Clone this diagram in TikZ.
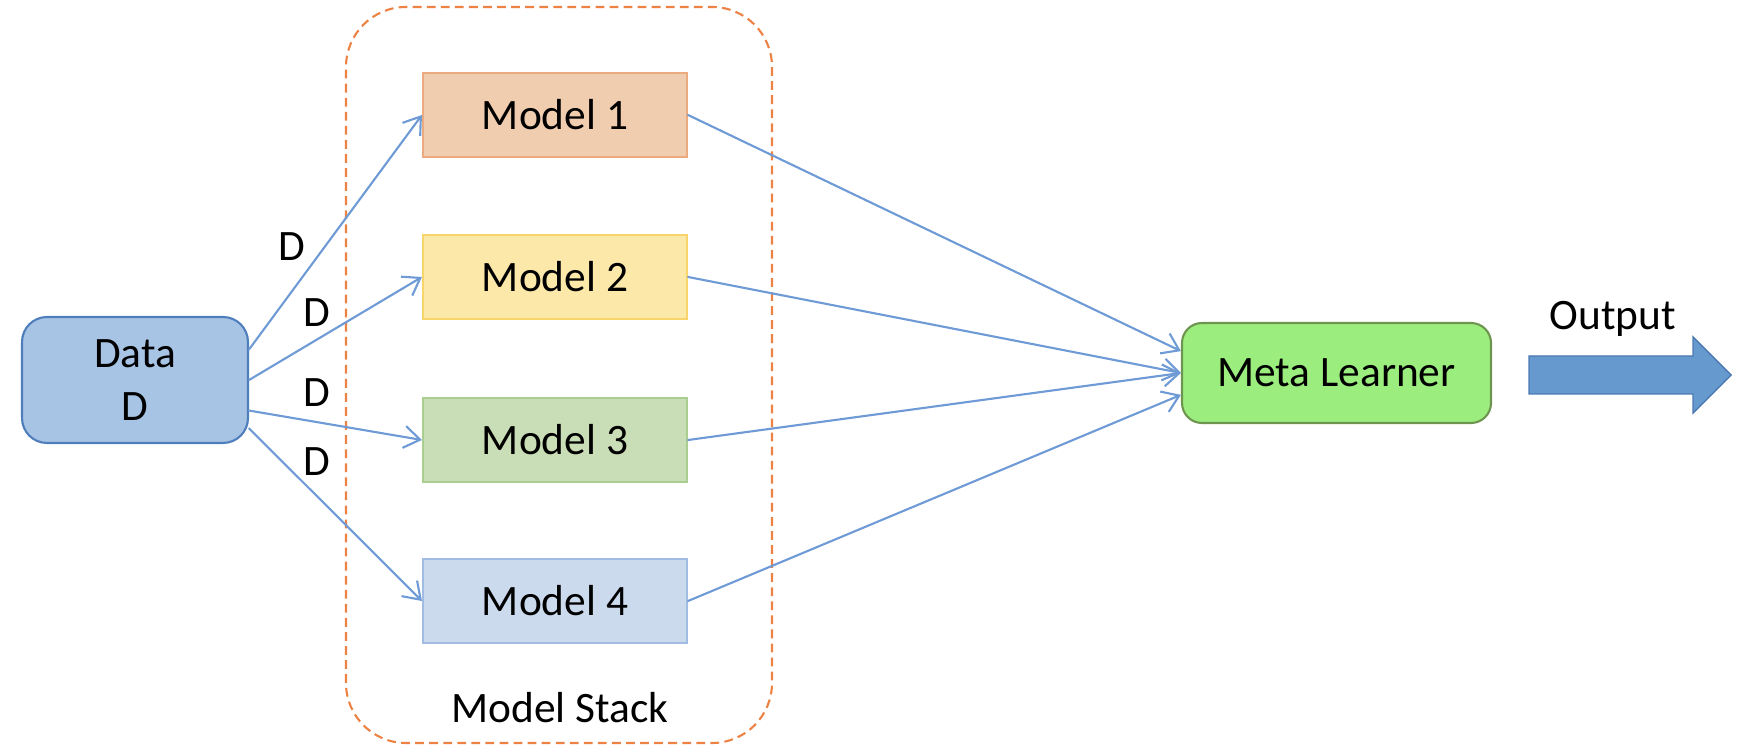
\documentclass[tikz,border=0pt]{standalone}
\usepackage{fontspec}
\setmainfont{Carlito}
\usetikzlibrary{arrows.meta}

\definecolor{linkblue}{HTML}{6E9AD6}
\definecolor{stackorange}{HTML}{EC8244}
\definecolor{datafill}{HTML}{A8C4E4}
\definecolor{dataline}{HTML}{4F7EBD}
\definecolor{oneFill}{HTML}{F1CDB0}
\definecolor{oneLine}{HTML}{EBAA80}
\definecolor{twoFill}{HTML}{FCE9AA}
\definecolor{twoLine}{HTML}{F8D56A}
\definecolor{threeFill}{HTML}{C9DEB6}
\definecolor{threeLine}{HTML}{A9CE8F}
\definecolor{fourFill}{HTML}{CCDAEE}
\definecolor{fourLine}{HTML}{A0BCE2}
\definecolor{metafill}{HTML}{9BEE7E}
\definecolor{metaline}{HTML}{6E9550}
\definecolor{outfill}{HTML}{6699CD}
\definecolor{outline}{HTML}{4B79B2}

\begin{document}
\begin{tikzpicture}[font=\fontsize{24.7}{30}\selectfont,
	model/.style={draw,line width=1.2pt,minimum width=5.28cm,minimum height=1.68cm,inner sep=0pt},
	link/.style={draw=linkblue,line width=1.2pt,line cap=round,-{Straight Barb[length=3.2mm,width=4.4mm]}}]
	\useasboundingbox (0,0) rectangle (35.02,15.08);
	\def\mx{11.1} %centre of model column
	
	%MODEL STACK
	\draw[stackorange,line width=1.2pt,dash pattern=on 5pt off 3pt,rounded corners=1.2cm] (6.92,0.22) rectangle (15.44,14.94);
	\node (stack) at (11.2,0.92) {Model Stack};
	
	%BOXES
	\node[draw=dataline,fill=datafill,line width=1.2pt,rounded corners=0.5cm,minimum width=4.52cm,minimum height=2.52cm,inner sep=0pt,align=center] (data) at (2.7,7.48) {Data\\D};
	%
	\node[model,draw=oneLine,fill=oneFill]     (m1) at (\mx,12.78) {Model 1};
	\node[model,draw=twoLine,fill=twoFill]     (m2) at (\mx,9.54)  {Model 2};
	\node[model,draw=threeLine,fill=threeFill] (m3) at (\mx,6.28)  {Model 3};
	\node[model,draw=fourLine,fill=fourFill]   (m4) at (\mx,3.06)  {Model 4};
	%
	\node[draw=metaline,fill=metafill,line width=1.2pt,rounded corners=0.4cm,minimum width=6.18cm,minimum height=2cm,inner sep=0pt] (meta) at (26.73,7.62) {Meta Learner};
	
	%DATA ARROWS
	\draw[link] (data.15)  -- (m1.west);
	\draw[link] (data.east) -- (m2.west);
	\draw[link] (data.-15) -- (m3.west);
	\draw[link] (data.-23) -- (m4.west);
	\node (d1) at (5.84,10.14) {D};
	\node (d2) at (6.34,8.82)  {D};
	\node (d3) at (6.34,7.22)  {D};
	\node (d4) at (6.34,5.84)  {D};
	
	%META ARROWS
	\draw[link] (m1.east) -- (meta.172);
	\draw[link] (m2.east) -- (meta.west);
	\draw[link] (m3.east) -- (meta.west);
	\draw[link] (m4.east) -- (meta.-172);
	
	%OUTPUT
	\filldraw[fill=outfill,draw=outline,line width=0.8pt] (30.58,7.20)--(33.86,7.20)--(33.86,6.82)--(34.62,7.58)--(33.86,8.34)--(33.86,7.96)--(30.58,7.96)--cycle;
	\node (out) at (32.26,8.70) {Output};
\end{tikzpicture}
\end{document}
